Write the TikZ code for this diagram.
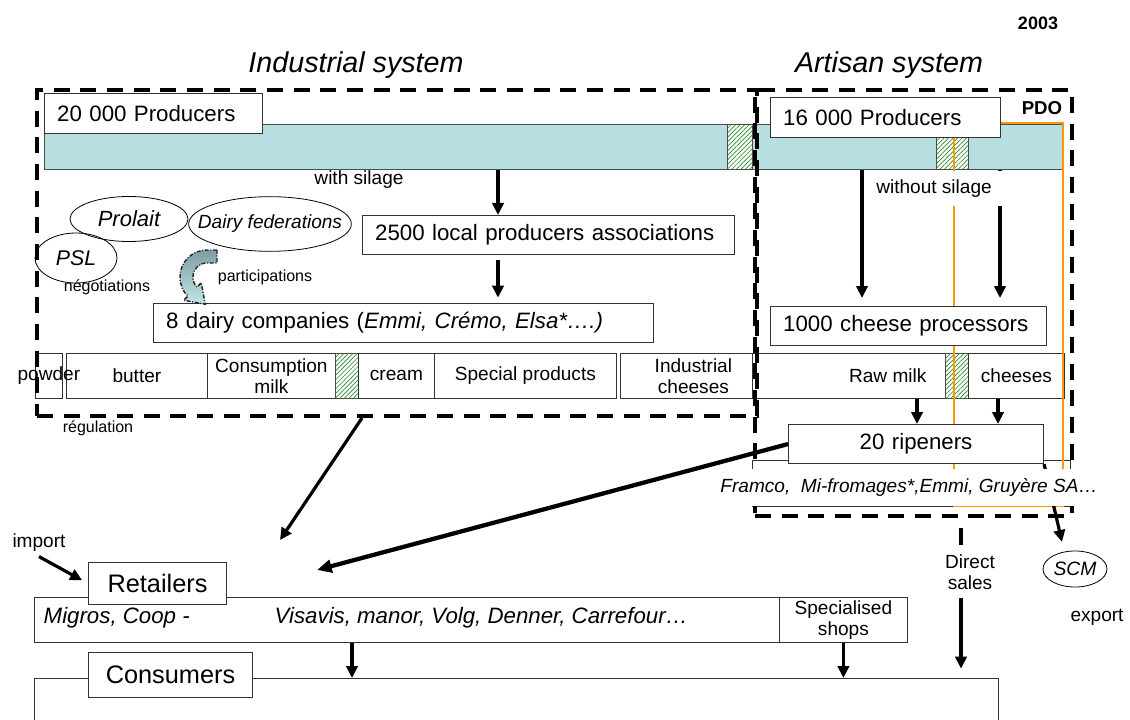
\documentclass[tikz,border=0pt]{standalone}
\usepackage{fontspec}
\setmainfont{Liberation Sans}
\usepackage{xcolor}
\usepackage{tikz}
\usetikzlibrary{arrows.meta,shapes.geometric,patterns.meta}

\definecolor{milkblue}{RGB}{183,222,225}
\definecolor{pdoorange}{RGB}{255,153,0}
\definecolor{hatchgreen}{RGB}{40,140,40}
\definecolor{partdark}{RGB}{125,158,163}
\definecolor{partlight}{RGB}{192,230,234}

\begin{document}
\begin{tikzpicture}[x=0.75pt, y=-0.75pt,
        mainbox/.style={draw=black!80, line width=0.8pt, fill=white, anchor=north west, inner xsep=9.5pt, inner ysep=0pt, align=left, font=\fontsize{16.7}{20}\selectfont},
        prodcell/.style={draw=black!80, line width=0.6pt, fill=white, anchor=north west, inner sep=0pt, minimum height=33.75pt, align=center, font=\fontsize{14.3}{15.5}\selectfont},
        hatchcell/.style={draw=black!70, line width=0.5pt, anchor=north west, inner sep=0pt, minimum height=33.75pt, preaction={fill=white}, pattern={Lines[angle=45,distance=2.4pt,line width=0.5pt]}, pattern color=hatchgreen},
        sysframe/.style={draw, line width=3pt, dash pattern=on 12pt off 8pt, anchor=north west, inner sep=0pt},
        sysname/.style={anchor=base, font=\itshape\fontsize{21.5}{26}\selectfont},
        oval/.style={draw, ellipse, line width=0.6pt, inner sep=0pt},
        plainlabel/.style={font=\fontsize{14.3}{16}\selectfont, align=center},
        smalllabel/.style={font=\fontsize{12}{14}\selectfont},
        partarrow/.style={draw=black!85, line width=1.1pt, dash pattern=on 3pt off 1.2pt on 0.8pt off 1.2pt, top color=partdark, bottom color=partlight},
        flow/.style={-{Triangle[length=9pt,width=8.5pt]}, line width=2.8pt}
    ]
        \useasboundingbox (0,0) rectangle (1130,720);

        \node[font=\bfseries\fontsize{13.5}{16}\selectfont] (year) at (1038,23) {2003};
        \node[sysname] (indname) at (356,73) {Industrial system};
        \node[sysname] (artname) at (889,73) {Artisan system};

        \node[draw=black!70, line width=0.6pt, fill=milkblue, anchor=north west, inner sep=0pt, minimum width=764.25pt, minimum height=33.75pt] (milkbar) at (44,124) {};
        \node[hatchcell, minimum width=18.75pt] (hatchA) at (727,124) {};
        \node[hatchcell, minimum width=24pt] (hatchB) at (936,124) {};

        \node[prodcell, minimum width=20.25pt] (powder) at (35,353) {};
        \node[prodcell, minimum width=105.75pt] (butter) at (66,353) {butter};
        \node[plainlabel] (powdertxt) at (powder) {powder};
        \node[prodcell, minimum width=96pt] (consum) at (207,353) {Consumption\\milk};
        \node[hatchcell, minimum width=17.25pt] (hatchC) at (335,353) {};
        \node[prodcell, minimum width=57pt] (cream) at (358,353) {cream};
        \node[prodcell, minimum width=136.5pt] (special) at (434,353) {Special products};
        \node[prodcell, minimum width=99pt, label={[xshift=5.25pt, align=center, font=\fontsize{14.3}{15.5}\selectfont]center:Industrial\\cheeses}] (indch) at (620,353) {};
        \node[prodcell, minimum width=144.75pt, label={[anchor=east, xshift=-11pt, font=\fontsize{14.3}{15.5}\selectfont]east:Raw milk}] (rawmilk) at (752,353) {};
        \node[hatchcell, minimum width=17.25pt] (hatchD) at (945,353) {};
        \node[prodcell, minimum width=72pt] (cheeses) at (968,353) {cheeses};

        \node[draw=black!80, line width=0.6pt, anchor=north west, inner sep=0pt, minimum width=238.5pt, minimum height=34.5pt] (ripframe) at (752,460) {};
        \draw[pdoorange, line width=2.2pt] (954,123) rectangle (1063,506);

        \node[mainbox, text width=144.5pt, minimum height=30pt] (prod20) at (44,93) {20 000 Producers};
        \node[mainbox, text width=153.5pt, minimum height=30pt] (prod16) at (770,97) {16 000 Producers};
        \node[mainbox, text width=260.25pt, minimum height=29.25pt] (ass2500) at (362,215) {2500 local producers associations};
        \node[mainbox, text width=356pt, minimum height=29.25pt] (dairy8) at (153,303) {8 dairy companies (\textit{Emmi, Crémo, Elsa*….)}};
        \node[mainbox, text width=188pt, minimum height=29.25pt] (proc1000) at (770,306) {1000 cheese processors};
        \node[mainbox, align=center, text width=172.25pt, minimum height=29.25pt] (ripen) at (788,424) {20 ripeners};
        \node[font=\bfseries\fontsize{14}{16}\selectfont] (pdo) at (1042,108) {PDO};

        \coordinate (xa) at (498,0);
        \coordinate (xb) at (862,0);
        \coordinate (xc) at (1000,0);
        \coordinate (xd) at (917,0);
        \coordinate (xe) at (998,0);
        \draw[flow] (xa |- milkbar.south) -- (xa |- ass2500.north);
        \draw[flow, shorten <=4pt, shorten >=4pt] (xa |- ass2500.south) -- (xa |- dairy8.north);
        \draw[flow, shorten >=6pt] (xb |- milkbar.south) -- (xb |- proc1000.north);
        \draw[flow, shorten >=6pt] (xc |- milkbar.south) -- (xc |- proc1000.north);
        \draw[flow] (xd |- rawmilk.south) -- (xd |- ripen.north);
        \draw[flow] (xe |- cheeses.south) -- (xe |- ripen.north);

        \node[plainlabel] (withsil) at (359,180) {with silage};
        \node[plainlabel, fill=white, inner sep=0pt, minimum width=104pt, minimum height=26.25pt] (withoutsil) at (934,189) {without silage};

        \node[oval, minimum width=88.5pt, minimum height=33.75pt, label={[font=\itshape\fontsize{16.5}{18}\selectfont]center:Prolait}] (prolait) at (129,219) {};
        \node[oval, minimum width=122pt, minimum height=41pt, label={[font=\itshape\fontsize{14.3}{16}\selectfont]center:Dairy federations}] (dfed) at (270,224) {};
        \node[oval, minimum width=61.5pt, minimum height=37.5pt, label={[font=\itshape\fontsize{16}{18}\selectfont]center:PSL}] (psl) at (76,258) {};
        \node[smalllabel] (nego) at (107,287) {négotiations};
        \node[smalllabel] (partic) at (265,277) {participations};
        \draw[partarrow] (217,250) -- (207,250) .. controls (192,250) and (180,262) .. (180,277) .. controls (180,285) and (183,292) .. (188,296) -- (183.7,300.3) -- (205.2,304.2) -- (201.3,282.7) -- (197,287) .. controls (194,284) and (193,281) .. (193,277) .. controls (193,269) and (199,263) .. (207,263) -- (217,263) -- cycle;

        \node[sysframe, minimum width=540pt, minimum height=244.5pt] (indsys) at (35,88) {};
        \node[sysframe, minimum width=237.75pt, minimum height=319.5pt] (artsys) at (753,88) {};
        \node[smalllabel] (regul) at (98,428) {régulation};

        \node[draw=black!80, line width=0.6pt, anchor=north west, inner sep=0pt, minimum width=558.75pt, minimum height=33.75pt] (retrow) at (34,597) {};
        \node[prodcell, minimum width=96pt] (spec) at (779,597) {Specialised\\shops};
        \node[mainbox, align=center, inner xsep=0pt, text width=103.5pt, minimum height=31.5pt, font=\fontsize{19}{22}\selectfont] (retlbl) at (88,562) {Retailers};
        \node[anchor=west, font=\itshape\fontsize{16.7}{20}\selectfont] (migros) at (39,618) {Migros, Coop -};
        \node[anchor=west, font=\itshape\fontsize{16.7}{20}\selectfont] (visavis) at (270,618) {Visavis, manor, Volg, Denner, Carrefour…};

        \node[draw=black!80, line width=0.6pt, anchor=north west, inner sep=0pt, minimum width=723pt, minimum height=45pt] (consfr) at (34,678) {};
        \node[mainbox, align=center, inner xsep=0pt, text width=123pt, minimum height=33.75pt, font=\fontsize{19}{22}\selectfont] (conslbl) at (88,652) {Consumers};

        \coordinate (xf) at (362,0);
        \coordinate (indout) at (280,540);
        \coordinate (artout) at (317,570);
        \draw[flow, line width=2.4pt] (xf |- indsys.south) -- (indout);
        \draw[line width=3.2pt, -{Triangle[length=11pt,width=9.5pt]}] (ripen.west) -- (artout);

        \node[plainlabel] (imp) at (39,543) {import};
        \draw[flow, line width=2.4pt, shorten >=5pt] (imp.south) -- (retlbl.west);

        \coordinate (xh) at (352,0);
        \draw[flow] (xh |- retrow.south) -- (xh |- consfr.north);
        \draw[flow] (spec.south) -- (spec.south |- consfr.north);

        \node[oval, minimum width=48pt, minimum height=27pt, label={[font=\itshape\fontsize{14.5}{16}\selectfont]center:SCM}] (scm) at (1075,569) {};
        \coordinate (scmtip) at (1062,542);
        \draw[flow, line width=2.4pt] (ripen.south east) -- (scmtip);
        \node[plainlabel] (export) at (1097,617) {export};

        \node[fill=white, inner xsep=2pt, inner ysep=0pt, minimum height=27.75pt, font=\itshape\fontsize{14.3}{16}\selectfont] (framco) at (909,487) {Framco,\ \ Mi-fromages*,Emmi, Gruyère SA…};

        \coordinate (xg) at (961,0);
        \node[plainlabel] (dsales) at (970,572) {Direct\\sales};
        \draw[line width=2.6pt] (xg |- artsys.south) ++(0,10) -- ++(0,17);
        \draw[flow, shorten <=3pt, shorten >=7pt] (xg |- dsales.south) -- (xg |- consfr.north);
    \end{tikzpicture}
\end{document}
